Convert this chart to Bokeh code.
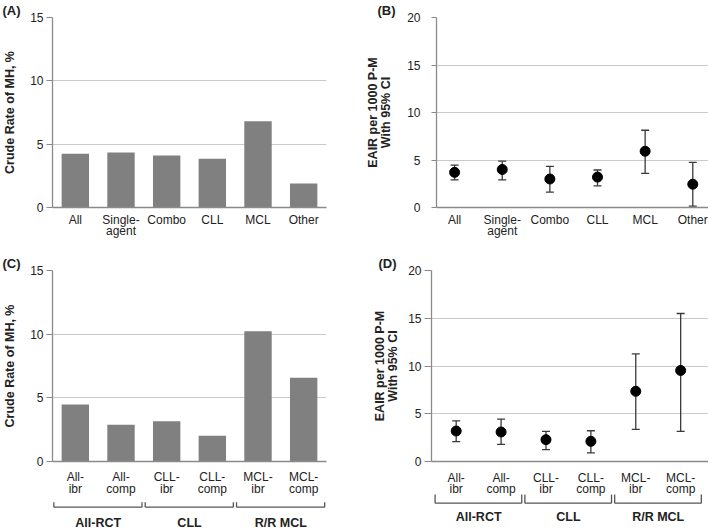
from bokeh.plotting import figure
from bokeh.layouts import row, column
from bokeh.models import Range1d, FixedTicker, Whisker, TeeHead, ColumnDataSource
from bokeh.core.properties import value
from bokeh.embed import file_html
from bokeh.resources import INLINE

FONT = "Liberation Sans"

# ---------------- data ----------------
cats_top = ["All", "Single-\nagent", "Combo", "CLL", "MCL", "Other"]
crude_top = [4.25, 4.35, 4.1, 3.85, 6.8, 1.9]
eair_top = [3.7, 4.0, 3.0, 3.2, 5.92, 2.45]
eair_top_lo = [2.9, 2.9, 1.62, 2.28, 3.6, 0.14]
eair_top_hi = [4.47, 4.88, 4.32, 3.95, 8.13, 4.74]

cats_bot = ["All-\nibr", "All-\ncomp", "CLL-\nibr", "CLL-\ncomp", "MCL-\nibr", "MCL-\ncomp"]
crude_bot = [4.47, 2.88, 3.17, 2.03, 10.22, 6.57]
eair_bot = [3.19, 3.09, 2.29, 2.11, 7.35, 9.53]
eair_bot_lo = [2.08, 1.8, 1.25, 0.9, 3.36, 3.15]
eair_bot_hi = [4.26, 4.44, 3.15, 3.22, 11.26, 15.5]

groups = ["All-RCT", "CLL", "R/R MCL"]
group_sizes = [2, 2, 2]

crude_ticks = [0, 5, 10, 15]
eair_ticks = [0, 5, 10, 15, 20]

AX = "#8a8a8a"
GRID = "#cacaca"
BAR = "#808080"
TXT = "#222222"


def base_fig(w, h, left, right, top, bottom, xr, yr, tag, tag_offset):
    p = figure(width=w, height=h, x_range=xr, y_range=yr,
               output_backend="svg", toolbar_location=None,
               min_border_left=left, min_border_right=right,
               min_border_top=top, min_border_bottom=bottom)
    p.outline_line_color = None
    p.background_fill_color = "white"
    p.border_fill_color = "white"
    p.title.text = tag
    p.title.align = "left"
    p.title.offset = tag_offset
    p.title.standoff = 0
    p.title.text_font = FONT
    p.title.text_font_style = "bold"
    p.title.text_font_size = "13px"
    p.title.text_color = TXT
    return p


def style_axes(p, cats, yticks, ylabel, tick_out, ylab_standoff, ylabel_standoff,
               show_xlabels):
    pos = list(range(1, len(cats) + 1))
    xa = p.xaxis[0]
    if show_xlabels:
        xa.ticker = FixedTicker(ticks=pos)
        xa.major_label_overrides = {i: c for i, c in zip(pos, cats)}
        xa.major_label_standoff = 5
    else:
        xa.ticker = FixedTicker(ticks=[])
        xa.major_label_standoff = 0
    xa.major_tick_out = 0
    xa.major_tick_in = 0
    xa.minor_tick_out = 0
    xa.minor_tick_in = 0
    xa.axis_line_color = AX
    xa.axis_line_width = 1.3
    xa.major_label_text_font = FONT
    xa.major_label_text_font_size = "12px"
    xa.major_label_text_color = TXT
    xa.major_label_text_line_height = 0.85

    ya = p.yaxis[0]
    ya.ticker = FixedTicker(ticks=yticks)
    ya.major_tick_out = tick_out
    ya.major_tick_in = 0
    ya.minor_tick_out = 0
    ya.minor_tick_in = 0
    ya.axis_line_color = AX
    ya.axis_line_width = 1.3
    ya.major_tick_line_color = AX
    ya.major_tick_line_width = 1.2
    ya.major_label_text_font = FONT
    ya.major_label_text_font_size = "12px"
    ya.major_label_text_color = TXT
    ya.major_label_standoff = ylab_standoff
    ya.axis_label = ylabel
    ya.axis_label_text_font = FONT
    ya.axis_label_text_font_style = "bold"
    ya.axis_label_text_font_size = "12.5px"
    ya.axis_label_text_color = TXT
    ya.axis_label_text_line_height = 0.95
    ya.axis_label_standoff = ylabel_standoff

    p.xgrid.visible = False
    p.ygrid.ticker = FixedTicker(ticks=yticks)
    p.ygrid.grid_line_color = GRID
    p.ygrid.grid_line_width = 1
    return pos


def bar_panel(w, h, left, right, top, bottom, cats, vals, yticks, tag, show_xlabels):
    p = base_fig(w, h, left, right, top, bottom,
                 Range1d(0.5, len(cats) + 0.5), Range1d(yticks[0], yticks[-1]),
                 tag, -left)
    pos = style_axes(p, cats, yticks, "Crude Rate of MH, %", 6, 3, 10, show_xlabels)
    p.vbar(x=pos, top=vals, width=0.6, fill_color=BAR, line_color=None)
    return p


def dot_panel(w, h, left, right, top, bottom, xr, cats, vals, lo, hi, yticks, tag,
              tag_x, tick_out, lab_standoff, axlab_standoff, show_xlabels):
    p = base_fig(w, h, left, right, top, bottom, xr, Range1d(yticks[0], yticks[-1]),
                 tag, tag_x - left)
    pos = style_axes(p, cats, yticks, "EAIR per 1000 P-M\nWith 95% CI",
                     tick_out, lab_standoff, axlab_standoff, show_xlabels)
    src = ColumnDataSource(dict(x=pos, y=vals, lower=lo, upper=hi))
    wc = "#3a3a3a"
    p.add_layout(Whisker(base="x", lower="lower", upper="upper", source=src,
                         line_color=wc, line_width=1.3,
                         upper_head=TeeHead(size=8, line_color=wc, line_width=1.3),
                         lower_head=TeeHead(size=8, line_color=wc, line_width=1.3)))
    p.scatter("x", "y", source=src, size=10, fill_color="black", line_color="black")
    return p


def lower_fig(w, h, left, right, xr, cats, y_cat1, cat_step, y_line, y_tick, y_text):
    """Category labels, group brackets and group names under a bottom panel."""
    pb = figure(width=w, height=h, x_range=xr, y_range=Range1d(0, h),
                output_backend="svg", toolbar_location=None,
                min_border_left=left, min_border_right=right,
                min_border_top=0, min_border_bottom=0)
    pb.axis.visible = False
    pb.grid.visible = False
    pb.outline_line_color = None
    pb.background_fill_color = "white"
    pb.border_fill_color = "white"

    # category labels (one text per line)
    lx, ly, lt = [], [], []
    for i, c in enumerate(cats):
        for j, part in enumerate(c.split("\n")):
            lx.append(i + 1)
            ly.append(y_cat1 - j * cat_step)
            lt.append(part)
    pb.text(x=lx, y=ly, text=lt, text_font=value(FONT), text_font_size="12px",
            text_color=TXT, text_align="center", text_baseline="middle")

    # brackets
    x0s, x1s, centers = [], [], []
    start = 0.5
    for n in group_sizes:
        x0s.append(start + 0.03)
        x1s.append(start + n - 0.04)
        centers.append(start + n / 2)
        start += n
    bc = "#555555"
    k = len(x0s)
    pb.segment(x0=x0s, y0=[y_line] * k, x1=x1s, y1=[y_line] * k,
               line_color=bc, line_width=1.3)
    pb.segment(x0=x0s + x1s, y0=[y_line] * (2 * k), x1=x0s + x1s,
               y1=[y_tick] * (2 * k), line_color=bc, line_width=1.3)
    pb.text(x=centers, y=[y_text] * len(centers), text=groups,
            text_font=value(FONT), text_font_style="bold", text_font_size="12.5px",
            text_color=TXT, text_align="center", text_baseline="middle")
    return pb


# ---------------- panels ----------------
pA = bar_panel(355, 253, 50, 29, 15, 46, cats_top, crude_top, crude_ticks, "(A)", True)
pB = dot_panel(353, 253, 81, 0, 15, 46, Range1d(0.62, 6.33), cats_top,
               eair_top, eair_top_lo, eair_top_hi, eair_ticks, "(B)", 22, 5, 11, 11, True)

pC = bar_panel(355, 216, 50, 29, 15, 8, cats_bot, crude_bot, crude_ticks, "(C)", False)
pCb = lower_fig(355, 61, 50, 29, pC.x_range, cats_bot, 53.3, 11.6, 23.3, 28.3, 7.3)

pD = dot_panel(353, 216, 76, 0, 15, 8, Range1d(0.45, 6.62), cats_bot,
               eair_bot, eair_bot_lo, eair_bot_hi, eair_ticks, "(D)", 23, 7, 3, 5, False)
pDb = lower_fig(353, 61, 76, 0, pD.x_range, cats_bot, 52.3, 10.6, 27.3, 36, 13.3)

layout = column(row(pA, pB), row(column(pC, pCb), column(pD, pDb)))

open("out.html", "w").write(file_html(layout, INLINE))
